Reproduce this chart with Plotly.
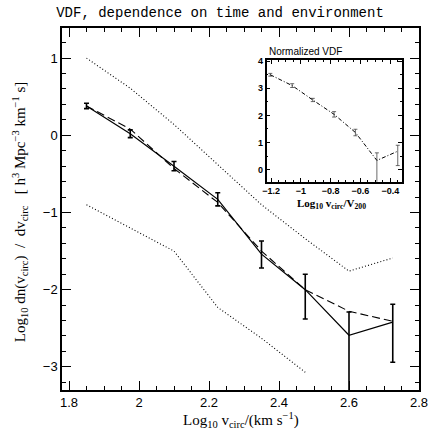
import plotly.graph_objects as go

# ---- main panel data ----
x_main = [1.85, 1.975, 2.1, 2.225, 2.35, 2.475, 2.6, 2.725]
y_solid = [0.38, 0.02, -0.40, -0.83, -1.54, -2.0, -2.59, -2.42]
err_plus = [0.035, 0.05, 0.06, 0.085, 0.17, 0.2, 0.3, 0.23]
err_minus = [0.035, 0.05, 0.06, 0.085, 0.18, 0.38, 2.0, 0.52]
y_dashed = [0.38, 0.08, -0.43, -0.87, -1.50, -2.0, -2.28, -2.41]
y_upper = [1.0, 0.61, 0.14, -0.38, -0.90, -1.34, -1.76, -1.59]
x_lower = [1.85, 1.975, 2.1, 2.225, 2.35, 2.475]
y_lower = [-0.90, -1.20, -1.50, -2.23, -2.63, -3.07]

# ---- inset data ----
x_inset = [-1.205, -1.058, -0.92, -0.777, -0.634, -0.49, -0.35]
y_inset = [3.5, 3.1, 2.57, 2.04, 1.37, 0.34, 0.68]
inset_err_plus = [0.05, 0.07, 0.06, 0.1, 0.12, 0.28, 0.22]
inset_err_minus = [0.05, 0.07, 0.06, 0.1, 0.12, 2.0, 0.53]

main_xticks = [1.8, 2.0, 2.2, 2.4, 2.6, 2.8]
main_yticks = [-3, -2, -1, 0, 1]
inset_xticks = [-1.2, -1.0, -0.8, -0.6, -0.4]
inset_yticks = [0, 1, 2, 3, 4]

fig = go.Figure()

fig.add_trace(go.Scatter(x=x_main, y=y_upper, mode="lines",
                         line=dict(color="black", width=1.1, dash="1px,2.2px")))
fig.add_trace(go.Scatter(x=x_lower, y=y_lower, mode="lines",
                         line=dict(color="black", width=1.1, dash="1px,2.2px")))
fig.add_trace(go.Scatter(x=x_main, y=y_dashed, mode="lines",
                         line=dict(color="black", width=1.1, dash="8px,4px")))
fig.add_trace(go.Scatter(x=x_main, y=y_solid, mode="lines",
                         line=dict(color="black", width=1.2),
                         error_y=dict(type="data", symmetric=False,
                                      array=err_plus, arrayminus=err_minus,
                                      color="black", thickness=1.6, width=2.5)))

fig.add_trace(go.Scatter(x=x_inset, y=y_inset, mode="lines", xaxis="x2", yaxis="y2",
                         line=dict(color="black", width=1, dash="4px,2px,1px,2px"),
                         error_y=dict(type="data", symmetric=False,
                                      array=inset_err_plus, arrayminus=inset_err_minus,
                                      color="#444444", thickness=0.8, width=2)))

axis_common = dict(showline=True, linewidth=1.5, linecolor="black", mirror="allticks",
                   showgrid=False, zeroline=False, ticks="inside", tickcolor="black")

fig.update_layout(
    width=440, height=430,
    margin=dict(l=62, r=12, t=28, b=40),
    plot_bgcolor="white", paper_bgcolor="white",
    showlegend=False,
    title=dict(text="VDF, dependence on time and environment",
               x=0.5, xref="container", xanchor="center", y=0.972, yref="container", yanchor="middle",
               font=dict(family="Liberation Mono", size=14, color="black")),
    xaxis=dict(range=[1.78, 2.8], tickvals=main_xticks, ticklen=9, tickwidth=1,
               minor=dict(dtick=0.05, tick0=1.8, ticks="inside", ticklen=4.5, tickcolor="black"),
               tickfont=dict(family="Liberation Sans", size=13, color="black"),
               **axis_common),
    yaxis=dict(range=[-3.30, 1.39], tickvals=main_yticks, ticklen=9, tickwidth=1,
               minor=dict(dtick=0.2, tick0=0, ticks="inside", ticklen=4.5, tickcolor="black"),
               tickfont=dict(family="Liberation Sans", size=13, color="black"),
               **axis_common),
    xaxis2=dict(domain=[0.573, 0.953], anchor="y2", range=[-1.23, -0.32],
                tickvals=inset_xticks, ticklen=4, tickwidth=1,
                minor=dict(dtick=0.05, tick0=-1.2, ticks="inside", ticklen=2, tickcolor="black"),
                tickfont=dict(family="Liberation Sans", size=9, color="black", weight="bold"),
                **axis_common),
    yaxis2=dict(domain=[0.575, 0.912], anchor="x2", range=[-0.45, 4.05],
                tickvals=inset_yticks, ticklen=4, tickwidth=1,
                minor=dict(dtick=0.5, tick0=0, ticks="inside", ticklen=2, tickcolor="black"),
                tickfont=dict(family="Liberation Sans", size=9, color="black", weight="bold"),
                **axis_common),
)

fig.add_annotation(text="Log<sub>10</sub> v<sub>circ</sub>/(km s<sup>−1</sup>)",
                   xref="paper", yref="paper", x=0.5, y=-0.083, showarrow=False,
                   xanchor="center", yanchor="middle",
                   font=dict(family="Liberation Serif", size=15, color="black"))
fig.add_annotation(text="Log<sub>10</sub> dn(v<sub>circ</sub>)  /  dv<sub>circ</sub>"
                        "   [ h<sup>3</sup> Mpc<sup>−3</sup> km<sup>−1</sup> s]",
                   xref="paper", yref="paper", x=-0.119, y=0.49, showarrow=False,
                   textangle=-90, xanchor="center", yanchor="middle",
                   font=dict(family="Liberation Serif", size=15, color="black"))
fig.add_annotation(text="Normalized VDF", xref="paper", yref="paper",
                   x=0.574, y=0.934, showarrow=False, xanchor="left", yanchor="middle",
                   font=dict(family="Liberation Sans", size=10, color="black"))
fig.add_annotation(text="<b>Log<sub>10</sub> v<sub>circ</sub>/V<sub>200</sub></b>",
                   xref="paper", yref="paper", x=0.755, y=0.514, showarrow=False,
                   xanchor="center", yanchor="middle",
                   font=dict(family="Liberation Serif", size=11, color="black"))

fig.write_html("out.html", config={"displayModeBar": False},
               post_script="document.body.style.margin='0';document.body.style.overflow='hidden';")
